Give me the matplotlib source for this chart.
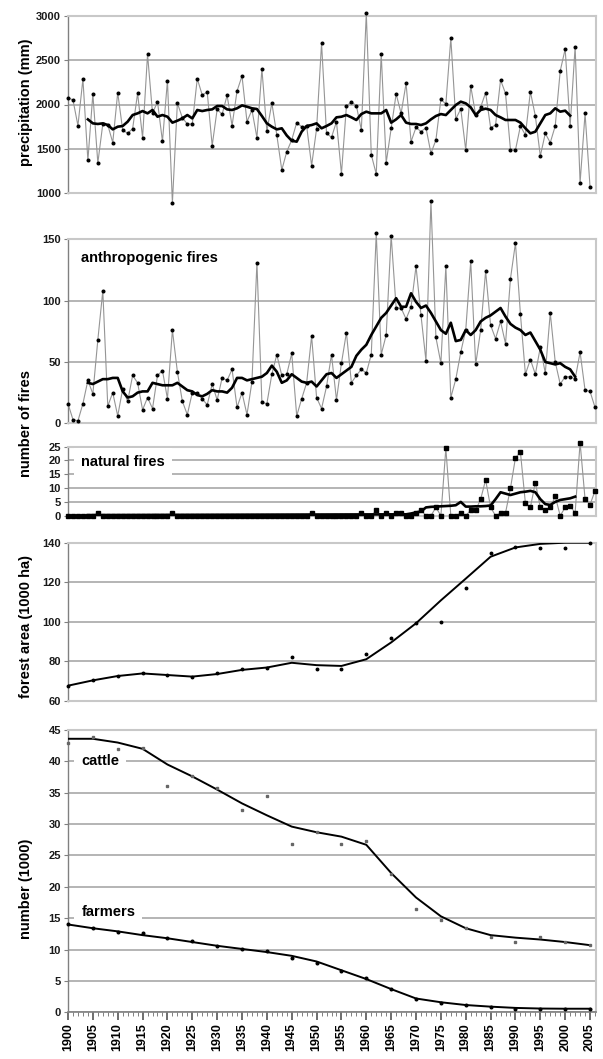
import numpy as np
import matplotlib
matplotlib.use("Agg")
import matplotlib.pyplot as plt
from matplotlib.ticker import MultipleLocator

plt.rcParams['font.family'] = ['Liberation Sans', 'DejaVu Sans']
plt.rcParams['font.weight'] = 'bold'

# ---- data ----
precip_years = list(range(1900, 2006))
precip = [2077, 2051, 1761, 2288, 1369, 2119, 1339, 1780, 1770, 1569,
          2134, 1712, 1674, 1727, 2126, 1625, 2567, 1900, 2032, 1584,
          2269, 890, 2017, 1850, 1780, 1780, 2292, 2107, 2141, 1535,
          1945, 1889, 2103, 1761, 2152, 2322, 1806, 1938, 1625, 2401,
          1697, 2017, 1655, 1260, 1467, 1599, 1795, 1749, 1757, 1309,
          1727, 2691, 1674, 1629, 1806, 1218, 1983, 2028, 1987, 1712,
          3030, 1433, 1214, 2571, 1343, 1730, 2119, 1900, 2239, 1580,
          1742, 1693, 1738, 1448, 1599, 2058, 2006, 2748, 1836, 1950,
          1486, 2209, 1881, 1970, 2134, 1738, 1768, 2277, 2126, 1486,
          1486, 1757, 1655, 2145, 1870, 1418, 1674, 1569, 1757, 2378,
          2627, 1757, 2653, 1116, 1900, 1071]
precip_ma_years = list(range(1904, 2002))
precip_ma = [1832, 1787, 1780, 1787, 1768, 1719, 1749, 1757, 1806, 1881,
             1900, 1926, 1900, 1938, 1862, 1881, 1862, 1795, 1817, 1843,
             1881, 1843, 1938, 1926, 1938, 1945, 1983, 1983, 1945, 1938,
             1957, 1990, 1975, 1957, 1949, 1870, 1787, 1749, 1719, 1731,
             1650, 1591, 1580, 1693, 1757, 1768, 1787, 1731, 1757, 1787,
             1855, 1862, 1881, 1855, 1825, 1892, 1919, 1900, 1900, 1900,
             1938, 1795, 1832, 1881, 1795, 1780, 1780, 1768, 1787, 1832,
             1870, 1892, 1881, 1938, 1994, 2032, 2013, 1968, 1881, 1938,
             1953, 1938, 1881, 1855, 1825, 1825, 1825, 1795, 1731, 1674,
             1693, 1787, 1881, 1900, 1957, 1919, 1930, 1874]

fire_years = list(range(1900, 2007))
anthro = [16, 3, 2, 16, 35, 24, 68, 108, 14, 25,
          6, 28, 18, 39, 33, 11, 21, 12, 39, 43,
          20, 76, 42, 18, 7, 25, 25, 20, 15, 32,
          19, 37, 35, 44, 13, 25, 7, 34, 131, 17,
          16, 40, 56, 39, 40, 57, 6, 20, 33, 71,
          21, 12, 30, 56, 19, 49, 74, 33, 39, 44,
          41, 56, 155, 56, 72, 153, 94, 94, 85, 95,
          128, 88, 51, 181, 70, 49, 128, 21, 36, 58,
          76, 132, 48, 76, 124, 80, 69, 83, 65, 118,
          147, 89, 40, 52, 40, 62, 41, 90, 50, 32,
          38, 38, 36, 58, 27, 26, 13]
anthro_ma_years = list(range(1904, 2003))
anthro_ma = [33, 32, 34, 36, 36, 37, 37, 26, 21, 22,
             25, 26, 26, 33, 32, 31, 31, 31, 33, 30,
             27, 26, 23, 22, 24, 27, 26, 26, 25, 29,
             37, 37, 35, 36, 37, 38, 41, 47, 42, 33,
             35, 40, 37, 34, 33, 34, 30, 35, 40, 41,
             37, 40, 43, 46, 55, 60, 64, 72, 79, 86,
             90, 96, 102, 95, 95, 106, 99, 94, 96, 90,
             83, 76, 73, 82, 67, 68, 76, 72, 76, 83,
             86, 88, 91, 94, 87, 81, 78, 76, 72, 74,
             67, 60, 50, 49, 48, 49, 46, 44, 38]

natural = [0, 0, 0, 0, 0, 0, 1, 0, 0, 0,
           0, 0, 0, 0, 0, 0, 0, 0, 0, 0,
           0, 1, 0, 0, 0, 0, 0, 0, 0, 0,
           0, 0, 0, 0, 0, 0, 0, 0, 0, 0,
           0, 0, 0, 0, 0, 0, 0, 0, 0, 1,
           0, 0, 0, 0, 0, 0, 0, 0, 0, 1,
           0, 0, 2, 0, 1, 0, 1, 1, 0, 0,
           1, 2, 0, 0, 3, 0, 24.4, 0, 0, 1,
           0, 2, 2, 6, 13, 3, 0, 1, 1, 10,
           21, 23, 4.5, 3, 12, 3, 2, 3, 7, 0,
           3, 3.5, 1, 26.5, 6, 4, 9]
natural_ma_years = [1904, 1968, 1969, 1970, 1971, 1972, 1973, 1974, 1975,
                    1976, 1977, 1978, 1979, 1980, 1981, 1982, 1983, 1984,
                    1985, 1986, 1987, 1988, 1989, 1990, 1991, 1992, 1993,
                    1994, 1995, 1996, 1997, 1998, 1999, 2000, 2001, 2002]
natural_ma = [0.2, 0.5, 0.8, 1.2, 1.5, 3.0, 3.2, 3.3, 3.4,
              3.5, 3.6, 3.8, 5.0, 3.3, 3.3, 3.4, 3.4, 3.5,
              3.7, 6.0, 8.5, 8.0, 7.5, 8.0, 8.5, 8.7, 9.0,
              8.5, 6.0, 4.2, 3.9, 5.0, 5.7, 6.0, 6.3, 6.9]

five_years = list(range(1900, 2006, 5))
forest_obs = [67.6, 70.5, 72.7, 73.9, 73.0, 72.2, 74.2, 76.2, 76.4, 82.0, 76.1,
              76.1, 83.8, 91.6, 99.5, 99.7, 117.2, 134.6, 138.0, 137.5, 137.5, 140.0]
forest_fit = [67.6, 70.3, 72.5, 73.8, 73.0, 72.2, 73.5, 75.6, 76.8, 79.2, 78.0,
              77.6, 81.0, 89.5, 99.2, 110.8, 121.8, 132.9, 137.6, 139.4, 140.0, 140.0]

cattle_obs = [42.9, 43.9, 42.0, 42.2, 36.1, 37.6, 35.7, 32.2, 34.4, 26.8, 28.8,
              26.9, 27.3, 22.0, 16.5, 14.7, 13.4, 12.0, 11.2, 12.0, 11.2, 10.7]
cattle_fit = [43.6, 43.6, 43.0, 42.0, 39.5, 37.6, 35.5, 33.3, 31.4, 29.6, 28.7,
              28.0, 26.7, 22.2, 18.3, 15.3, 13.4, 12.3, 11.9, 11.6, 11.2, 10.7]
farmers_obs = [14.0, 13.5, 12.85, 12.6, 11.8, 11.4, 10.5, 10.1, 9.8, 8.7, 7.9,
               6.6, 5.4, 3.7, 2.1, 1.5, 1.2, 0.9, 0.6, 0.6, 0.5, 0.5]
farmers_fit = [14.0, 13.4, 12.9, 12.3, 11.8, 11.2, 10.6, 10.1, 9.6, 9.0, 8.1,
               6.7, 5.3, 3.7, 2.2, 1.6, 1.16, 0.9, 0.7, 0.6, 0.57, 0.57]

# ---- figure ----
W, H = 603, 1059
fig = plt.figure(figsize=(W / 100, H / 100), dpi=100)


def panel(top, bottom, ylim, ystep):
    ax = fig.add_axes([68 / W, 1 - bottom / H, 528 / W, (bottom - top) / H])
    ax.set_xlim(1900, 2006.2)
    ax.set_ylim(*ylim)
    ax.yaxis.set_major_locator(MultipleLocator(ystep))
    ax.yaxis.grid(True, color='#a8a8a8', lw=1.2)
    ax.set_axisbelow(True)
    for s in ['top', 'right', 'bottom']:
        ax.spines[s].set_color('#c8c8c8')
        ax.spines[s].set_linewidth(1.5)
    ax.spines['left'].set_color('#808080')
    ax.spines['left'].set_linewidth(1.0)
    ax.tick_params(axis='y', labelsize=8, length=3, width=0.8, color='#808080',
                   pad=2, labelcolor='#1a1a1a')
    ax.tick_params(axis='x', bottom=False, labelbottom=False)
    return ax


thin = dict(color='#959595', lw=0.8, clip_on=False, zorder=3)
thick = dict(color='black', lw=1.9, zorder=4)

# precipitation
ax1 = panel(16, 193, (1000, 3000), 500)
ax1.plot(precip_years, precip, marker='o', ms=1.9, mfc='black', mec='black', **thin)
ax1.plot(precip_ma_years, precip_ma, **thick)

# anthropogenic fires
ax2 = panel(239.3, 423.3, (0, 150), 50)
ax2.plot(fire_years, anthro, marker='o', ms=1.9, mfc='black', mec='black', **thin)
ax2.plot(anthro_ma_years, anthro_ma, **thick)
ax2.text(1902.7, 135, 'anthropogenic fires', fontsize=10.5, fontweight='bold',
         ha='left', va='center')

# natural fires
ax3 = panel(446.7, 515.7, (0, 25), 5)
ax3.plot(fire_years, natural, marker='s', ms=2.4, mfc='black', mec='black', **thin)
ax3.plot(natural_ma_years, natural_ma, **thick)
ax3.text(1902.7, 19.6, 'natural fires', fontsize=10.5, fontweight='bold',
         ha='left', va='center',
         bbox=dict(facecolor='white', edgecolor='none', pad=5))

# forest area
ax4 = panel(542.7, 700.7, (60, 140), 20)
ax4.plot(five_years, forest_fit, color='black', lw=1.4, zorder=4)
ax4.plot(five_years, forest_obs, 'o', ms=1.8, color='black', zorder=5, clip_on=False)

# cattle and farmers
ax5 = panel(730, 1012.3, (0, 45), 5)
ax5.plot(five_years, cattle_fit, color='black', lw=1.4, zorder=4)
ax5.plot(five_years, cattle_obs, 's', ms=2.0, color='#666666', zorder=5, clip_on=False)
ax5.plot(five_years, farmers_fit, color='black', lw=1.4, zorder=4)
ax5.plot(five_years, farmers_obs, 'o', ms=1.9, color='black', zorder=5, clip_on=False)
ax5.text(1902.7, 40, 'cattle', fontsize=10.5, fontweight='bold', ha='left',
         va='center', bbox=dict(facecolor='white', edgecolor='none', pad=5))
ax5.text(1902.7, 16, 'farmers', fontsize=10.5, fontweight='bold', ha='left',
         va='center', bbox=dict(facecolor='white', edgecolor='none', pad=5))
ax5.spines['bottom'].set_color('#808080')
ax5.spines['bottom'].set_linewidth(1.2)
ax5.set_xticks(five_years)
ax5.xaxis.set_minor_locator(MultipleLocator(1))
ax5.tick_params(axis='x', which='major', bottom=True, labelbottom=True,
                length=6, width=1.2, color='#555555', labelsize=9,
                labelrotation=90, pad=2)
ax5.tick_params(axis='x', which='minor', bottom=True, length=3, width=0.7,
                color='#808080')
for lab in ax5.get_xticklabels():
    lab.set_fontweight('bold')

# y labels
for txt, yc in [('precipitation (mm)', 102.5), ('number of fires', 423),
                ('forest area (1000 ha)', 626), ('number (1000)', 888.5)]:
    fig.text(26 / W, 1 - yc / H, txt, rotation=90, ha='center', va='center',
             fontsize=10.5, fontweight='bold')

fig.savefig('out.png', dpi=100)
